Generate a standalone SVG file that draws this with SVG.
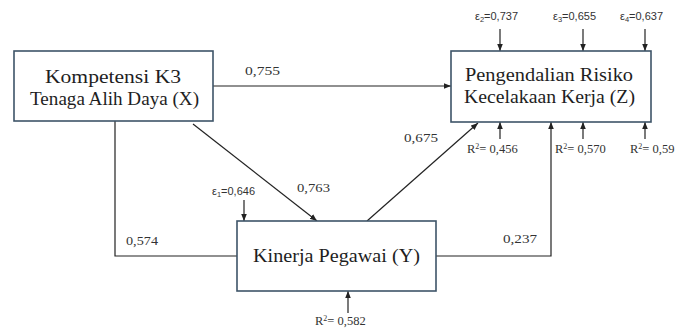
<svg xmlns="http://www.w3.org/2000/svg" width="677" height="329" viewBox="0 0 677 329">
<style>
.box{fill:#fff;stroke:#3e5468;stroke-width:1.6}
.t{font-family:"Liberation Serif","Times New Roman","DejaVu Serif",serif;font-size:18.5px;fill:#1e1e1e}
.c{fill:none;stroke:#222;stroke-width:1.2}
.lbl{font-family:"Liberation Serif","Times New Roman","DejaVu Serif",serif;font-size:13px;fill:#333}
.eps{font-family:"Liberation Sans",Arial,sans-serif;font-size:11px;fill:#333}
.r{font-family:"Liberation Serif","Times New Roman","DejaVu Serif",serif;font-size:12.5px;fill:#333}
</style>
<defs>
<marker id="a" viewBox="0 0 10 10" refX="10" refY="5" markerWidth="6" markerHeight="6" orient="auto"><path d="M0,1 L10,5 L0,9 z" fill="#222"/></marker>
</defs>
<g id="connectors">
<line class="c" x1="213" y1="86" x2="451" y2="86" marker-end="url(#a)"/>
<line class="c" x1="193" y1="124" x2="317" y2="221" marker-end="url(#a)"/>
<line class="c" x1="367" y1="221" x2="478" y2="123" marker-end="url(#a)"/>
<polyline class="c" points="115,121 115,256 237,256"/>
<polyline class="c" points="436,256 551,256 551,122" marker-end="url(#a)"/>
<line class="c" x1="500" y1="29" x2="500" y2="51" marker-end="url(#a)"/>
<line class="c" x1="583" y1="29" x2="583" y2="51" marker-end="url(#a)"/>
<line class="c" x1="645" y1="29" x2="645" y2="51" marker-end="url(#a)"/>
<line class="c" x1="500" y1="139" x2="500" y2="122" marker-end="url(#a)"/>
<line class="c" x1="583" y1="139" x2="583" y2="122" marker-end="url(#a)"/>
<line class="c" x1="645" y1="139" x2="645" y2="122" marker-end="url(#a)"/>
<line class="c" x1="244" y1="200" x2="244" y2="221" marker-end="url(#a)"/>
<line class="c" x1="348" y1="313" x2="348" y2="291" marker-end="url(#a)"/>
</g>
<g id="labels">
<text class="lbl" x="245" y="75" textLength="35" lengthAdjust="spacingAndGlyphs">0,755</text>
<text class="lbl" x="297" y="192" textLength="33" lengthAdjust="spacingAndGlyphs">0,763</text>
<text class="lbl" x="404" y="142" textLength="34" lengthAdjust="spacingAndGlyphs">0,675</text>
<text class="lbl" x="126" y="245" textLength="32" lengthAdjust="spacingAndGlyphs">0,574</text>
<text class="lbl" x="503" y="243" textLength="34" lengthAdjust="spacingAndGlyphs">0,237</text>
<text class="eps" x="475" y="20">ε<tspan font-size="7.5" dy="2">2</tspan><tspan dy="-2">=0,737</tspan></text>
<text class="eps" x="553" y="20">ε<tspan font-size="7.5" dy="2">3</tspan><tspan dy="-2">=0,655</tspan></text>
<text class="eps" x="620" y="20">ε<tspan font-size="7.5" dy="2">4</tspan><tspan dy="-2">=0,637</tspan></text>
<text class="eps" x="212" y="195">ε<tspan font-size="7.5" dy="2">1</tspan><tspan dy="-2">=0,646</tspan></text>
<text class="r" x="467" y="153">R<tspan font-size="8" dy="-4">2</tspan><tspan dy="4">= 0,456</tspan></text>
<text class="r" x="555" y="153">R<tspan font-size="8" dy="-4">2</tspan><tspan dy="4">= 0,570</tspan></text>
<text class="r" x="630" y="153">R<tspan font-size="8" dy="-4">2</tspan><tspan dy="4">= 0,59</tspan></text>
<text class="r" x="315" y="325">R<tspan font-size="8" dy="-4">2</tspan><tspan dy="4">= 0,582</tspan></text>
</g>
<g id="nodeX">
<rect class="box" x="14" y="51" width="199" height="70"/>
<text class="t" x="45" y="82.5" textLength="136" lengthAdjust="spacingAndGlyphs">Kompetensi K3</text>
<text class="t" x="30" y="105" textLength="169" lengthAdjust="spacingAndGlyphs">Tenaga Alih Daya (X)</text>
</g>
<g id="nodeZ">
<rect class="box" x="451" y="51" width="200" height="71"/>
<text class="t" x="465" y="81" textLength="168" lengthAdjust="spacingAndGlyphs">Pengendalian Risiko</text>
<text class="t" x="464" y="103" textLength="171" lengthAdjust="spacingAndGlyphs">Kecelakaan Kerja (Z)</text>
</g>
<g id="nodeY">
<rect class="box" x="237" y="221" width="199" height="70"/>
<text class="t" x="253" y="262" textLength="167" lengthAdjust="spacingAndGlyphs">Kinerja Pegawai (Y)</text>
</g>
</svg>
